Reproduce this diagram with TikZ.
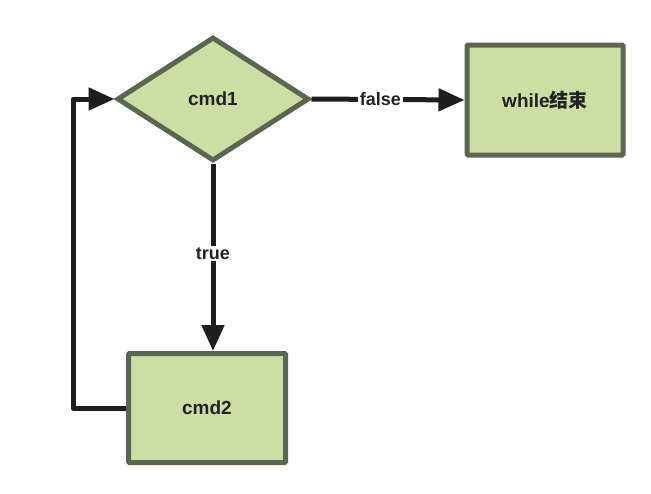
\documentclass[tikz,border=0pt]{standalone}
\usepackage{fontspec}
\setmainfont{Liberation Sans}
\newfontfamily\cjk{Noto Sans CJK SC}
\usetikzlibrary{shapes.geometric,arrows.meta}
\definecolor{boxfill}{HTML}{CDDEA5}
\definecolor{boxline}{HTML}{5B6650}
\definecolor{arrowc}{HTML}{1E1E1E}
\definecolor{textc}{HTML}{222222}
\begin{document}
\begin{tikzpicture}[x=1pt,y=-1pt,
  boxst/.style={draw=boxline,fill=boxfill,line width=5pt,minimum width=156pt,minimum height=110pt,rounded corners=1pt,font=\bfseries\fontsize{19}{22}\selectfont,text=textc},
  diast/.style={draw=boxline,fill=boxfill,line width=5pt,diamond,minimum width=192pt,minimum height=124pt,inner sep=0pt,font=\bfseries\fontsize{19}{22}\selectfont,text=textc},
  conn/.style={draw=arrowc,line width=5pt},
  arr/.style={conn,-{Triangle[length=26pt,width=22pt]}},
  lab/.style={fill=white,inner sep=2pt,font=\bfseries\fontsize{18}{21}\selectfont,text=textc}]
\useasboundingbox (0,0) rectangle (651,493);
\node[diast] (c1) at (213,99) {cmd1};
\node[boxst] (end) at (545,100) {while{\cjk 结束}};
\node[boxst,minimum width=157pt,minimum height=109pt] (c2) at (207,408) {cmd2};
\coordinate (b1) at (73,408);
\coordinate (b2) at (73,99);
\draw[arr] (c1.south -| 213,0) -- node[lab,pos=0.48] {true} (c2.north -| 213,0);
\draw[arr] (c1.east) -- node[lab,pos=0.45] {false} (end.west);
\draw[arr,line join=round] (c2.west) -- (b1) -- (b2) -- (c1.west);
\end{tikzpicture}
\end{document}
